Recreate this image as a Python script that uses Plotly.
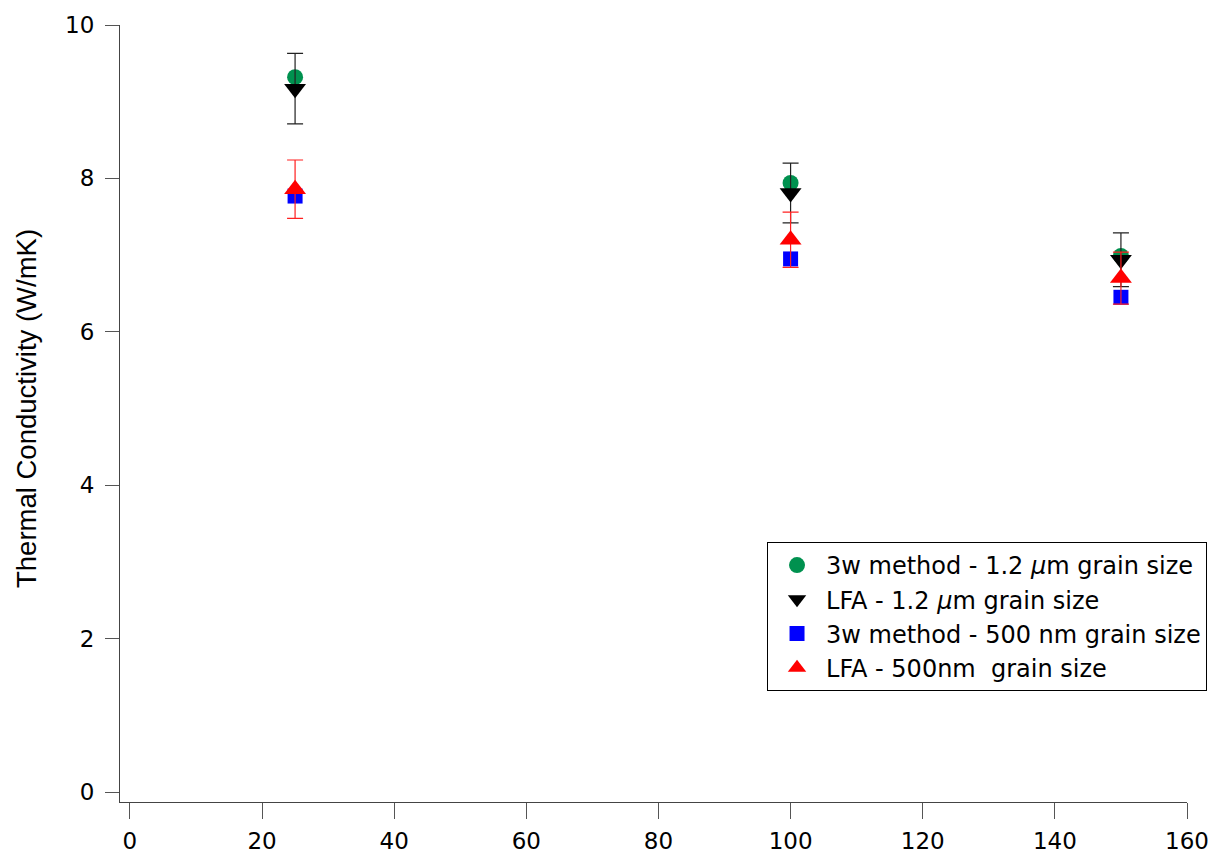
import plotly.graph_objects as go

temps = [25, 100, 150]
k_3w_12 = [9.32, 7.94, 6.99]
k_lfa_12 = [9.17, 7.81, 6.94]
err_lfa_12 = [0.46, 0.39, 0.35]
k_3w_500 = [7.77, 6.95, 6.45]
k_lfa_500 = [7.86, 7.20, 6.70]
err_lfa_500 = [0.38, 0.36, 0.34]

names = ["3w method - 1.2 <i>µ</i>m grain size",
         "LFA - 1.2 <i>µ</i>m grain size",
         "3w method - 500 nm grain size",
         "LFA - 500nm  grain size"]
y_title = "Thermal Conductivity (W/mK)"

fig = go.Figure()
fig.add_trace(go.Scatter(x=temps, y=k_3w_12, mode="markers", name=names[0],
                         marker=dict(symbol="circle", size=16, color="#00914f")))
fig.add_trace(go.Scatter(x=temps, y=k_lfa_12, mode="markers", name=names[1],
                         marker=dict(symbol="triangle-down", size=19, color="black"),
                         error_y=dict(type="data", array=err_lfa_12, visible=True,
                                      color="#222222", thickness=1.2, width=8)))
fig.add_trace(go.Scatter(x=temps, y=k_3w_500, mode="markers", name=names[2],
                         marker=dict(symbol="square", size=15, color="#0000ff")))
fig.add_trace(go.Scatter(x=temps, y=k_lfa_500, mode="markers", name=names[3],
                         marker=dict(symbol="triangle-up", size=19, color="#ff0000"),
                         error_y=dict(type="data", array=err_lfa_500, visible=True,
                                      color="#ff2020", thickness=1.2, width=8)))

axis_font = dict(family="DejaVu Sans", size=23, color="black")
fig.update_layout(
    width=1211, height=849,
    margin=dict(l=112, r=32, t=17, b=55),
    paper_bgcolor="white", plot_bgcolor="white",
    showlegend=True,
    legend=dict(x=0.6064, y=0.3346, xanchor="left", yanchor="top",
                bordercolor="black", borderwidth=1, bgcolor="white",
                font=dict(family="DejaVu Sans", size=24, color="black"),
                tracegroupgap=0, itemsizing="trace", itemwidth=48),
    xaxis=dict(range=[-1.5, 160], tickvals=[0, 20, 40, 60, 80, 100, 120, 140, 160],
               showgrid=False, zeroline=False, showline=True, linecolor="#444444",
               linewidth=1, ticks="outside", ticklen=16, tickcolor="#555555",
               tickfont=axis_font, ticklabelstandoff=2, automargin=False),
    yaxis=dict(range=[-0.13, 10], tickvals=[0, 2, 4, 6, 8, 10],
               showgrid=False, zeroline=False, showline=True, linecolor="#444444",
               linewidth=1, ticks="outside", ticklen=14, tickcolor="#555555",
               tickfont=axis_font, ticklabelstandoff=6, automargin=False),
    annotations=[dict(text=y_title, xref="paper", yref="paper",
                      x=-0.087, y=0.506, xanchor="center", yanchor="middle",
                      textangle=-90, showarrow=False,
                      font=dict(family="Liberation Sans", size=27.5, color="black"))],
)
fig.write_html("out.html")
